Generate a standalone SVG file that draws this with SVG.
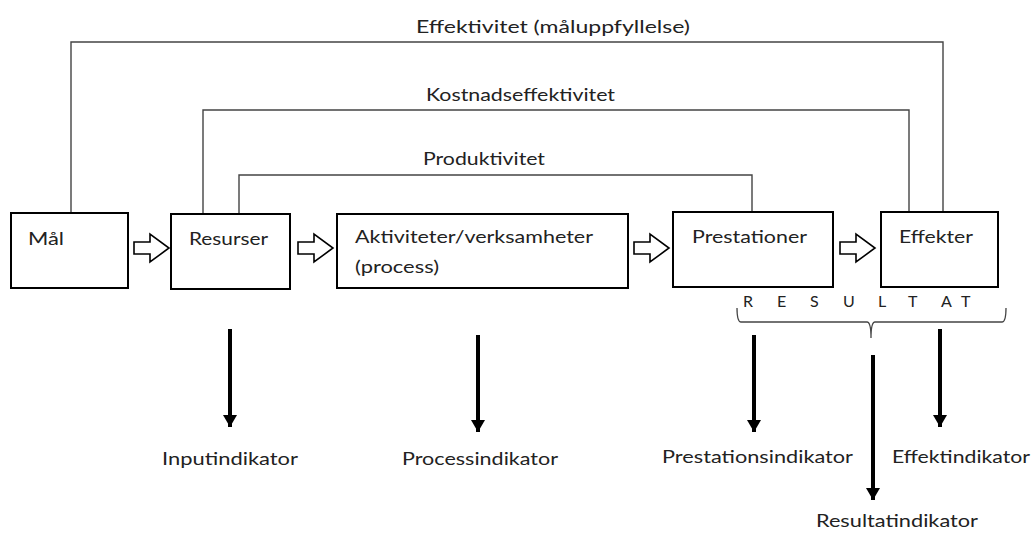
<svg xmlns="http://www.w3.org/2000/svg" width="1035" height="534" viewBox="0 0 1035 534">
<style>
.box{fill:#fff;stroke:#000;stroke-width:2}
.t{font-family:Lato,"Liberation Sans",sans-serif;font-size:18px;fill:#222}
.ln{fill:none;stroke:#444;stroke-width:1.4}
.ha{fill:#fff;stroke:#000;stroke-width:1.6;stroke-linejoin:miter}
.da{stroke:#000;stroke-width:4}
.br{fill:none;stroke:#444;stroke-width:1.3}
</style>
<defs>
<marker id="ah" viewBox="0 0 12 14" refX="12" refY="7" markerWidth="12" markerHeight="14" markerUnits="userSpaceOnUse" orient="auto">
<path d="M0,0 L12,7 L0,14 Z" fill="#000"/>
</marker>
</defs>
<rect width="1035" height="534" fill="#fff"/>
<g id="connectors">
<polyline class="ln" points="71,213 71,42 943,42 943,212"/>
<polyline class="ln" points="203,214 203,110 909,110 909,212"/>
<polyline class="ln" points="239,214 239,175 752,175 752,212"/>
<path class="ha" d="M134,242 L150,242 L150,234 L169,248 L150,262 L150,254 L134,254 Z"/>
<path class="ha" d="M298,242 L314,242 L314,234 L333,248 L314,262 L314,254 L298,254 Z"/>
<path class="ha" d="M634,242 L650,242 L650,234 L669,248 L650,262 L650,254 L634,254 Z"/>
<path class="ha" d="M840,242 L856,242 L856,234 L875,248 L856,262 L856,254 L840,254 Z"/>
<path class="br" d="M737,308 Q737,322 741,322 L867,322 Q871,322 871,338 Q871,322 875,322 L1002,322 Q1006,322 1006,308"/>
<line class="da" x1="230" y1="329" x2="230" y2="427" marker-end="url(#ah)"/>
<line class="da" x1="478" y1="335" x2="478" y2="432" marker-end="url(#ah)"/>
<line class="da" x1="754" y1="335" x2="754" y2="432" marker-end="url(#ah)"/>
<line class="da" x1="940" y1="329" x2="940" y2="427" marker-end="url(#ah)"/>
<line class="da" x1="873" y1="355" x2="873" y2="500" marker-end="url(#ah)"/>
</g>
<g id="labels-top">
<text class="t" x="416" y="33" textLength="274" lengthAdjust="spacingAndGlyphs">Effektivitet (måluppfyllelse)</text>
<text class="t" x="426" y="101" textLength="189" lengthAdjust="spacingAndGlyphs">Kostnadseffektivitet</text>
<text class="t" x="423" y="165" textLength="122" lengthAdjust="spacingAndGlyphs">Produktivitet</text>
</g>
<g id="mal">
<rect class="box" x="11" y="213" width="117" height="75"/>
<text class="t" x="28" y="245" textLength="36" lengthAdjust="spacingAndGlyphs">Mål</text>
</g>
<g id="resurser">
<rect class="box" x="171" y="214" width="119" height="75"/>
<text class="t" x="189" y="245" textLength="79" lengthAdjust="spacingAndGlyphs">Resurser</text>
</g>
<g id="aktiviteter">
<rect class="box" x="337" y="214" width="291" height="74"/>
<text class="t" x="355" y="243" textLength="238" lengthAdjust="spacingAndGlyphs">Aktiviteter/verksamheter</text>
<text class="t" x="355" y="273" textLength="84" lengthAdjust="spacingAndGlyphs">(process)</text>
</g>
<g id="prestationer">
<rect class="box" x="673" y="212" width="160" height="75"/>
<text class="t" x="692" y="243" textLength="115" lengthAdjust="spacingAndGlyphs">Prestationer</text>
</g>
<g id="effekter">
<rect class="box" x="881" y="212" width="117" height="75"/>
<text class="t" x="899" y="243" textLength="74" lengthAdjust="spacingAndGlyphs">Effekter</text>
</g>
<g id="resultat" class="t" font-size="16">
<text class="t" style="font-size:16px" x="743" y="307">R</text>
<text class="t" style="font-size:16px" x="777" y="307">E</text>
<text class="t" style="font-size:16px" x="810" y="307">S</text>
<text class="t" style="font-size:16px" x="843" y="307">U</text>
<text class="t" style="font-size:16px" x="878" y="307">L</text>
<text class="t" style="font-size:16px" x="908" y="307">T</text>
<text class="t" style="font-size:16px" x="941" y="307">A</text>
<text class="t" style="font-size:16px" x="961" y="307">T</text>
</g>
<g id="indicators">
<text class="t" x="162" y="465" textLength="136" lengthAdjust="spacingAndGlyphs">Inputindikator</text>
<text class="t" x="402" y="465" textLength="156" lengthAdjust="spacingAndGlyphs">Processindikator</text>
<text class="t" x="662" y="463" textLength="191" lengthAdjust="spacingAndGlyphs">Prestationsindikator</text>
<text class="t" x="892" y="463" textLength="138" lengthAdjust="spacingAndGlyphs">Effektindikator</text>
<text class="t" x="816" y="527" textLength="162" lengthAdjust="spacingAndGlyphs">Resultatindikator</text>
</g>
</svg>
